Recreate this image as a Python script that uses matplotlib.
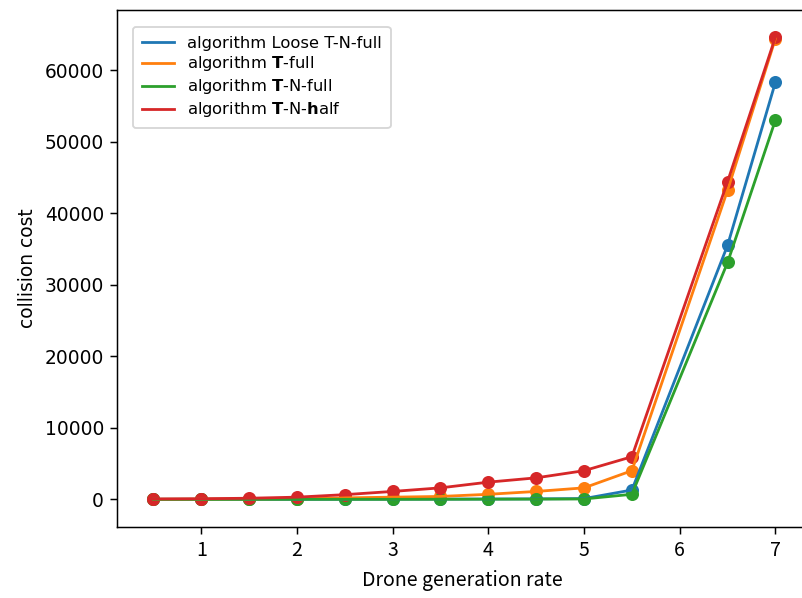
import matplotlib
matplotlib.use("Agg")
import matplotlib.pyplot as plt

# Drone generation rates sampled in the experiment
rates = [0.5, 1.0, 1.5, 2.0, 2.5, 3.0, 3.5, 4.0, 4.5, 5.0, 5.5, 6.5, 7.0]

# Collision cost for each algorithm
loose_tn_full = [0, 0, 0, 0, 10, 20, 30, 40, 60, 100, 1300, 35500, 58300]
t_full = [0, 20, 50, 100, 200, 300, 400, 700, 1100, 1600, 4000, 43200, 64400]
tn_full = [0, 0, 0, 0, 0, 0, 10, 20, 30, 50, 700, 33100, 53000]
tn_half = [50, 80, 150, 300, 650, 1100, 1600, 2400, 3000, 4000, 5950, 44400, 64600]

labels = [
    "algorithm Loose T-N-full",
    r"algorithm $\mathbf{T}$-full",
    r"algorithm $\mathbf{T}$-N-full",
    r"algorithm $\mathbf{T}$-N-$\mathbf{h}$alf",
]
series = [loose_tn_full, t_full, tn_full, tn_half]
colors = ["#1f77b4", "#ff7f0e", "#2ca02c", "#d62728"]

W, H = 802, 598
fig = plt.figure(figsize=(W / 134, H / 134), dpi=134)
ax_l, ax_r, ax_b, ax_t = 117, 807, 527, 10
ax = fig.add_axes([ax_l / W, (H - ax_b) / H, (ax_r - ax_l) / W, (ax_b - ax_t) / H])

for vals, lab, col in zip(series, labels, colors):
    ax.plot(rates, vals, color=col, label=lab)
for vals, col in zip(series, colors):
    ax.scatter(rates, vals, color=col)

ax.set_xlim(0.12, 7.33)
ax.set_ylim(-3870, 68390)

ax.set_ylabel("collision cost")
ax.set_xlabel("Drone generation rate", fontfamily="Noto Sans CJK SC", fontsize=10.5,
              labelpad=5)
for t in ax.get_xticklabels():
    t.set_fontfamily("Noto Sans CJK SC")
    t.set_fontsize(10.5)

bx = 16 / (ax_r - ax_l)
by = 1 - 17 / (ax_b - ax_t)
ax.legend(loc="upper left", bbox_to_anchor=(bx, by), borderaxespad=0,
          fontsize=8.8, labelspacing=0.24, borderpad=0.52)

fig.savefig("out.png", dpi=134)
